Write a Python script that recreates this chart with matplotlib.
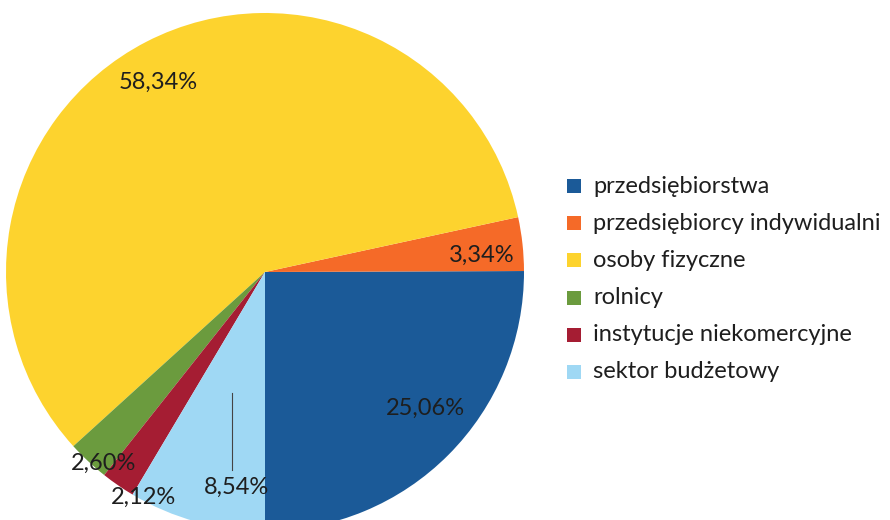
import matplotlib
matplotlib.use("Agg")
import matplotlib.pyplot as plt
from matplotlib.patches import Rectangle

categories = ["przedsiębiorstwa", "przedsiębiorcy indywidualni", "osoby fizyczne",
              "rolnicy", "instytucje niekomercyjne", "sektor budżetowy"]
values = [25.06, 3.34, 58.34, 2.60, 2.12, 8.54]
labels = ["25,06%", "3,34%", "58,34%", "2,60%", "2,12%", "8,54%"]
colors = ["#1B5A98", "#F56A28", "#FDD32E", "#6B9B3E", "#A51D33", "#9FD8F4"]

W, H = 890, 520
fig = plt.figure(figsize=(W / 100, H / 100), dpi=100)
fig.patch.set_facecolor("white")

cx, cy, r = 265, 272, 259
ax = fig.add_axes([(cx - r) / W, (H - cy - r) / H, 2 * r / W, 2 * r / H])
ax.axis("off")

wedges, _ = ax.pie(values, colors=colors, startangle=270, counterclock=True,
                   radius=1.0, center=(0, 0), frame=False,
                   wedgeprops=dict(linewidth=0))
ax.set_xlim(-1, 1)
ax.set_ylim(-1, 1)

font = "Lato"
# label positions in pixel coordinates (relative to the figure)
label_px = [(425, 408), (482, 255), (158, 82), (104, 463), (143, 497), (236, 487)]
for lab, (px, py) in zip(labels, label_px):
    fig.text(px / W, 1 - py / H, lab, ha="center", va="center",
             fontsize=17, family=font, color="#1e1e1e")

# leader line
fig.add_artist(plt.Line2D([232 / W, 232 / W], [1 - 393 / H, 1 - 470 / H],
                          color="#444444", linewidth=0.8))

# legend
ly0, dy = 186, 37.2
for i, (cat, col) in enumerate(zip(categories, colors)):
    y = ly0 + i * dy
    fig.add_artist(Rectangle(((567) / W, 1 - (y + 7) / H), 14 / W, 14 / H,
                             transform=fig.transFigure, facecolor=col, edgecolor="none"))
    fig.text(593 / W, 1 - y / H, cat, ha="left", va="center",
             fontsize=17, family=font, color="#1e1e1e")

fig.savefig("out.png", dpi=100)
